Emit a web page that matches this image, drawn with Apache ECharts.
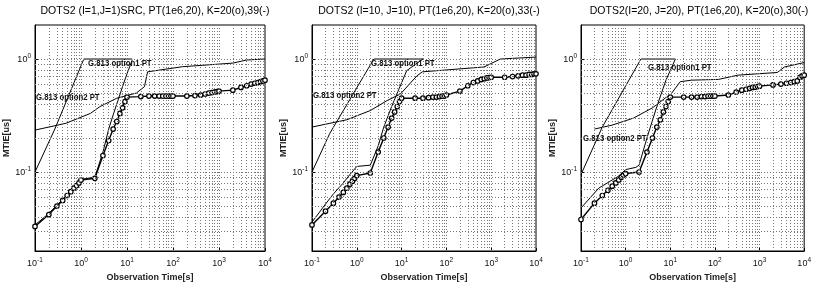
<!DOCTYPE html>
<html>
<head>
<meta charset="utf-8">
<script src="https://cdn.jsdelivr.net/npm/echarts@6/dist/echarts.min.js"></script>
<style>
  html, body { margin: 0; background: #fff; }
  #chart { width: 814px; height: 288px; }
</style>
</head>
<body>
<div id="chart"></div>
<script>
// observation times (s) of the K=20 MTIE estimates, 1-2-..-9 per decade
const TAU = [0.1, 0.2, 0.3, 0.4, 0.5, 0.6, 0.7, 0.8, 0.9,
  1, 2, 3, 4, 5, 6, 7, 8, 9,
  10, 20, 30, 40, 50, 60, 70, 80, 90,
  100, 200, 300, 400, 500, 600, 700, 800, 900,
  1000, 2000, 3000, 4000, 5000, 6000, 7000, 8000, 9000,
  10000]

// panel 1: DOTS2 (I=1,J=1)SRC
const P1_K20 = [0.033, 0.042, 0.05, 0.056, 0.062, 0.067, 0.072, 0.076, 0.08,
  0.085, 0.088, 0.14, 0.19, 0.24, 0.28, 0.33, 0.37, 0.42,
  0.46, 0.465, 0.47, 0.47, 0.47, 0.47, 0.47, 0.47, 0.47,
  0.47, 0.47, 0.475, 0.48, 0.49, 0.5, 0.505, 0.51, 0.515,
  0.52, 0.53, 0.56, 0.58, 0.6, 0.61, 0.62, 0.63, 0.64,
  0.65]
const P1_K39_T = [0.1, 0.2, 0.3, 0.5, 0.7, 1, 2, 3, 4, 5, 6, 8, 10, 13]
const P1_K39 = [0.034, 0.043, 0.051, 0.063, 0.073, 0.086, 0.09, 0.15, 0.24, 0.32, 0.4, 0.57, 0.74, 0.98]
const P1_OPT1_T = [0.1, 0.27, 1.15, 13]
const P1_OPT1 = [0.1, 0.24, 1.0, 1.0]
const P1_OPT2_T = [0.1, 0.47, 1.6, 2.6, 6, 16, 24, 28, 160, 2000, 4000, 10000]
const P1_OPT2 = [0.235, 0.27, 0.33, 0.38, 0.45, 0.5, 0.57, 0.77, 0.855, 0.92, 0.98, 1.0]

// panel 2: DOTS2 (I=10, J=10)
const P2_K20 = [0.034, 0.045, 0.053, 0.06, 0.066, 0.072, 0.078, 0.083, 0.088,
  0.093, 0.098, 0.15, 0.2, 0.25, 0.3, 0.34, 0.38, 0.42,
  0.45, 0.45, 0.45, 0.455, 0.46, 0.46, 0.465, 0.47, 0.47,
  0.48, 0.52, 0.58, 0.62, 0.64, 0.66, 0.67, 0.68, 0.685,
  0.69, 0.69, 0.7, 0.71, 0.72, 0.72, 0.73, 0.73, 0.74,
  0.74]
const P2_K33_T = [0.1, 0.2, 0.3, 0.5, 0.7, 1, 2, 3, 4, 6, 8, 13, 30]
const P2_K33 = [0.036, 0.052, 0.064, 0.08, 0.095, 0.112, 0.115, 0.17, 0.25, 0.38, 0.5, 0.79, 1.0]
const P2_OPT1_T = [0.1, 0.25, 2.4, 30]
const P2_OPT1 = [0.1, 0.22, 1.0, 1.0]
const P2_OPT2_T = [0.1, 0.6, 2, 4.8, 9.4, 22, 29, 690, 1600, 10000]
const P2_OPT2 = [0.25, 0.29, 0.35, 0.43, 0.49, 0.71, 0.77, 0.85, 1.0, 1.04]

// panel 3: DOTS2(I=20, J=20)
const P3_K20 = [0.038, 0.053, 0.062, 0.069, 0.075, 0.08, 0.085, 0.09, 0.094,
  0.097, 0.1, 0.15, 0.2, 0.25, 0.29, 0.34, 0.38, 0.42,
  0.46, 0.46, 0.46, 0.46, 0.465, 0.465, 0.47, 0.47, 0.47,
  0.47, 0.48, 0.51, 0.53, 0.54, 0.55, 0.56, 0.565, 0.57,
  0.575, 0.59, 0.6, 0.61, 0.62, 0.63, 0.64, 0.69, 0.71,
  0.72]
const P3_K30_T = [0.1, 0.25, 0.7, 1, 1.7, 2, 3, 5, 8, 13]
const P3_K30 = [0.048, 0.072, 0.092, 0.105, 0.11, 0.115, 0.2, 0.38, 0.65, 1.0]
const P3_OPT1_T = [0.1, 0.3, 2.2, 13]
const P3_OPT1 = [0.095, 0.25, 1.0, 1.0]
const P3_OPT2_T = [0.2, 0.5, 1.5, 4, 7.6, 10, 16.7, 30, 120, 330, 2500, 3600, 10000]
const P3_OPT2 = [0.24, 0.26, 0.3, 0.37, 0.45, 0.48, 0.63, 0.65, 0.66, 0.72, 0.76, 0.85, 0.93]

const TITLES = [
  'DOTS2 (I=1,J=1)SRC, PT(1e6,20), K=20(o),39(-)',
  'DOTS2 (I=10, J=10), PT(1e6,20), K=20(o),33(-)',
  'DOTS2(I=20, J=20), PT(1e6,20), K=20(o),30(-)'
]
const X_MIN = 0.1
const X_MAX = 10000
const Y_MIN = 0.02
const Y_MAX = 2

const panels = [
  { left: 35, width: 230, k20: P1_K20, kxT: P1_K39_T, kx: P1_K39, o1T: P1_OPT1_T, o1: P1_OPT1, o2T: P1_OPT2_T, o2: P1_OPT2,
    lab1: [88, 58], lab2: [36, 92] },
  { left: 312, width: 224, k20: P2_K20, kxT: P2_K33_T, kx: P2_K33, o1T: P2_OPT1_T, o1: P2_OPT1, o2T: P2_OPT2_T, o2: P2_OPT2,
    lab1: [371, 58], lab2: [313, 90] },
  { left: 581, width: 226, k20: P3_K20, kxT: P3_K30_T, kx: P3_K30, o1T: P3_OPT1_T, o1: P3_OPT1, o2T: P3_OPT2_T, o2: P3_OPT2,
    lab1: [648, 62], lab2: [583, 133] }
]

// dotted log grid (1..9 per decade), edges are drawn by the frame
const xGrid = []
for (let d = -1; d <= 3; d++) {
  for (let k = 1; k <= 9; k++) {
    const v = k * Math.pow(10, d)
    if (v > X_MIN && v < X_MAX) xGrid.push(v)
  }
}
const yGrid = []
for (let d = -2; d <= 0; d++) {
  for (let k = 1; k <= 9; k++) {
    const v = k * Math.pow(10, d)
    if (v > Y_MIN * 1.001 && v < Y_MAX * 0.999) yGrid.push(v)
  }
}

function powLabel (value) {
  const e = Math.round(Math.log10(value))
  if (Math.abs(value - Math.pow(10, e)) > 1e-6 * value) return ''
  return '{b|10}{s|' + e + '}'
}
const labelRich = {
  b: { fontSize: 9, fontFamily: 'Liberation Sans', color: '#111' },
  s: { fontSize: 6.5, fontFamily: 'Liberation Sans', color: '#111', verticalAlign: 'top', padding: [0, 0, 6, 0] }
}

const pair = (xs, ys) => xs.map((t, j) => [t, ys[j]])
const black = '#000'

const option = {
  animation: false,
  backgroundColor: '#fff',
  title: [],
  grid: [],
  xAxis: [],
  yAxis: [],
  series: [],
  graphic: []
}

panels.forEach((p, i) => {
  option.grid.push({ left: p.left, top: 25, width: p.width, height: 226, show: true, borderColor: black, borderWidth: 1 })
  option.title.push({
    text: TITLES[i],
    left: p.left + p.width / 2,
    top: 1,
    textAlign: 'center',
    textStyle: { fontSize: 10.5, fontWeight: 'normal', fontFamily: 'Liberation Sans', color: '#000' }
  })
  option.xAxis.push({
    type: 'log', gridIndex: i, min: X_MIN, max: X_MAX, logBase: 10,
    name: 'Observation Time[s]', nameLocation: 'middle', nameGap: 22,
    nameTextStyle: { fontSize: 9, fontWeight: 'bold', fontFamily: 'Liberation Sans', color: '#222' },
    axisLine: { lineStyle: { color: black } },
    axisTick: { inside: true, length: 3, lineStyle: { color: black } },
    axisLabel: { formatter: powLabel, rich: labelRich, margin: 6 },
    splitLine: { show: false }
  })
  option.yAxis.push({
    type: 'log', gridIndex: i, min: Y_MIN, max: Y_MAX, logBase: 10,
    name: 'MTIE[us]', nameLocation: 'middle', nameGap: 20,
    nameTextStyle: { fontSize: 9, fontWeight: 'bold', fontFamily: 'Liberation Sans', color: '#222' },
    axisLine: { lineStyle: { color: black } },
    axisTick: { inside: true, length: 3, lineStyle: { color: black } },
    axisLabel: { formatter: powLabel, rich: labelRich, margin: 4, showMinLabel: false, showMaxLabel: false },
    splitLine: { show: false }
  })
  // grid lines
  option.series.push({
    type: 'line', xAxisIndex: i, yAxisIndex: i, data: [], silent: true,
    markLine: {
      silent: true, symbol: 'none', label: { show: false },
      lineStyle: { color: '#777', width: 1, type: [1, 2] },
      data: xGrid.map(v => ({ xAxis: v })).concat(yGrid.map(v => ({ yAxis: v })))
    }
  })
  const thin = { color: black, width: 1 }
  option.series.push({ type: 'line', xAxisIndex: i, yAxisIndex: i, data: pair(p.o1T, p.o1), showSymbol: false, lineStyle: thin })
  option.series.push({ type: 'line', xAxisIndex: i, yAxisIndex: i, data: pair(p.o2T, p.o2), showSymbol: false, lineStyle: thin })
  option.series.push({ type: 'line', xAxisIndex: i, yAxisIndex: i, data: pair(p.kxT, p.kx), showSymbol: false, lineStyle: thin })
  option.series.push({
    type: 'line', xAxisIndex: i, yAxisIndex: i, data: pair(TAU, p.k20),
    symbol: 'circle', symbolSize: 4.5,
    itemStyle: { color: '#fff', borderColor: black, borderWidth: 1.2 },
    lineStyle: { color: black, width: 1.4 }
  })
  const labFont = { fontSize: 9.5, fontWeight: 'bold', fontFamily: 'Liberation Sans', fill: '#111' }
  option.graphic.push({ type: 'text', x: p.lab1[0], y: p.lab1[1], scaleX: 0.82, z: 100, style: Object.assign({ text: 'G.813 option1 PT' }, labFont) })
  option.graphic.push({ type: 'text', x: p.lab2[0], y: p.lab2[1], scaleX: 0.82, z: 100, style: Object.assign({ text: 'G.813 option2 PT' }, labFont) })
})

const chart = echarts.init(document.getElementById('chart'), null, { renderer: 'canvas' })
chart.setOption(option)
</script>
</body>
</html>
